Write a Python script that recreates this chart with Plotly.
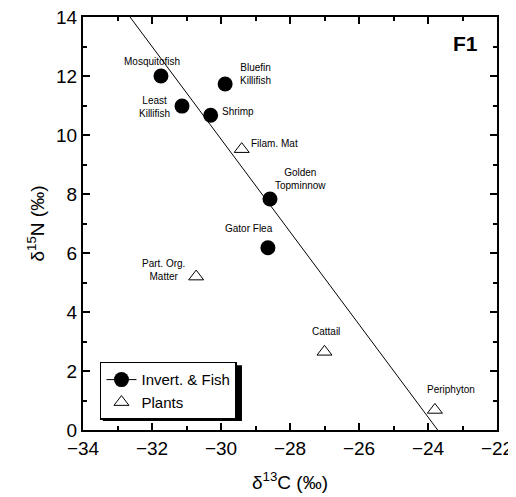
import plotly.graph_objects as go

# ---- data ----
fish_names = ["Mosquitofish", "Bluefin<br>Killifish", "Least<br>Killifish", "Shrimp",
              "Golden<br>Topminnow", "Gator Flea"]
fish_c13 = [-31.74, -29.88, -31.13, -30.30, -28.58, -28.64]
fish_n15 = [12.00, 11.73, 10.98, 10.67, 7.83, 6.18]

plant_names = ["Filam. Mat", "Part. Org.<br>Matter", "Cattail", "Periphyton"]
plant_c13 = [-29.40, -30.72, -27.00, -23.80]
plant_n15 = [9.52, 5.20, 2.65, 0.68]

fit_slope = -1.57
fit_intercept = -37.24

x_range = [-34, -22]
y_range = [0, 14]

# label offsets in pixels (style, not data)
fish_label_shift = [(-9, 15), (30, 10), (-28, -1), (27, 4), (31, 20), (-19, 19)]
plant_label_shift = [(33, 6), (-33, 7), (1, 20), (16, 20)]

FONT = "Liberation Sans, Arial, sans-serif"

fig = go.Figure()

fit_x = [x_range[0], x_range[1]]
fit_y = [fit_slope * v + fit_intercept for v in fit_x]
fig.add_trace(go.Scatter(x=fit_x, y=fit_y, mode="lines",
                         line=dict(color="black", width=1), showlegend=False,
                         hoverinfo="skip"))

fig.add_trace(go.Scatter(x=fish_c13, y=fish_n15, mode="markers",
                         marker=dict(symbol="circle", size=15, color="black"),
                         showlegend=False, text=fish_names))
fig.add_trace(go.Scatter(x=plant_c13, y=plant_n15, mode="markers",
                         marker=dict(symbol="triangle-up-open", size=13, color="black",
                                     line=dict(width=1, color="black")),
                         name="Plants", showlegend=False, text=plant_names))

# legend entries
fig.add_trace(go.Scatter(x=[None], y=[None], mode="lines+markers",
                         marker=dict(symbol="circle", size=15, color="black"),
                         line=dict(color="black", width=1),
                         name="Invert. & Fish"))
fig.add_trace(go.Scatter(x=[None], y=[None], mode="markers",
                         marker=dict(symbol="triangle-up-open", size=13, color="black",
                                     line=dict(width=1, color="black")),
                         name="Plants"))

for names, xs, ys, shifts in [(fish_names, fish_c13, fish_n15, fish_label_shift),
                              (plant_names, plant_c13, plant_n15, plant_label_shift)]:
    for n, xv, yv, (dx, dy) in zip(names, xs, ys, shifts):
        fig.add_annotation(x=xv, y=yv, text=n, showarrow=False, xshift=dx, yshift=dy,
                           font=dict(family=FONT, size=10, color="black"),
                           align="center")

fig.add_annotation(xref="paper", yref="paper", x=0.925, y=0.935, text="<b>F1</b>",
                   xanchor="center", yanchor="middle",
                   showarrow=False, font=dict(family=FONT, size=21, color="black"))

# legend shadow
fig.add_shape(type="rect", xref="paper", yref="paper",
              x0=0.048, x1=0.384, y0=0.022, y1=0.157,
              fillcolor="black", line=dict(width=0), layer="below")

axis_common = dict(showgrid=False, zeroline=False, showline=True, linecolor="black",
                   linewidth=2, mirror="ticks", ticks="inside", ticklen=7, tickwidth=1.5,
                   tickcolor="black", automargin=False, ticklabeloverflow="allow",
                   tickfont=dict(family=FONT, size=19, color="black"))

fig.update_xaxes(range=x_range, dtick=2, tick0=-34,
                 minor=dict(dtick=1, ticks="inside", ticklen=4, tickwidth=1.5,
                            tickcolor="black"),
                 title=dict(text="δ<sup>13</sup>C (‰)", standoff=18,
                            font=dict(family=FONT, size=19, color="black")),
                 **axis_common)
fig.update_yaxes(range=y_range, dtick=2, tick0=0,
                 minor=dict(dtick=1, ticks="inside", ticklen=4, tickwidth=1.5,
                            tickcolor="black"),
                 title=dict(text="δ<sup>15</sup>N (‰)", standoff=6,
                            font=dict(family=FONT, size=19, color="black")),
                 **axis_common)

fig.update_layout(
    width=516, height=497,
    margin=dict(l=75, r=27, t=9, b=75),
    paper_bgcolor="white", plot_bgcolor="white",
    legend=dict(x=0.041, y=0.165, xanchor="left", yanchor="top",
                bgcolor="white", bordercolor="black", borderwidth=1.5,
                font=dict(family=FONT, size=15, color="black"),
                tracegroupgap=0, itemwidth=30),
)

fig.write_html("out.html")
